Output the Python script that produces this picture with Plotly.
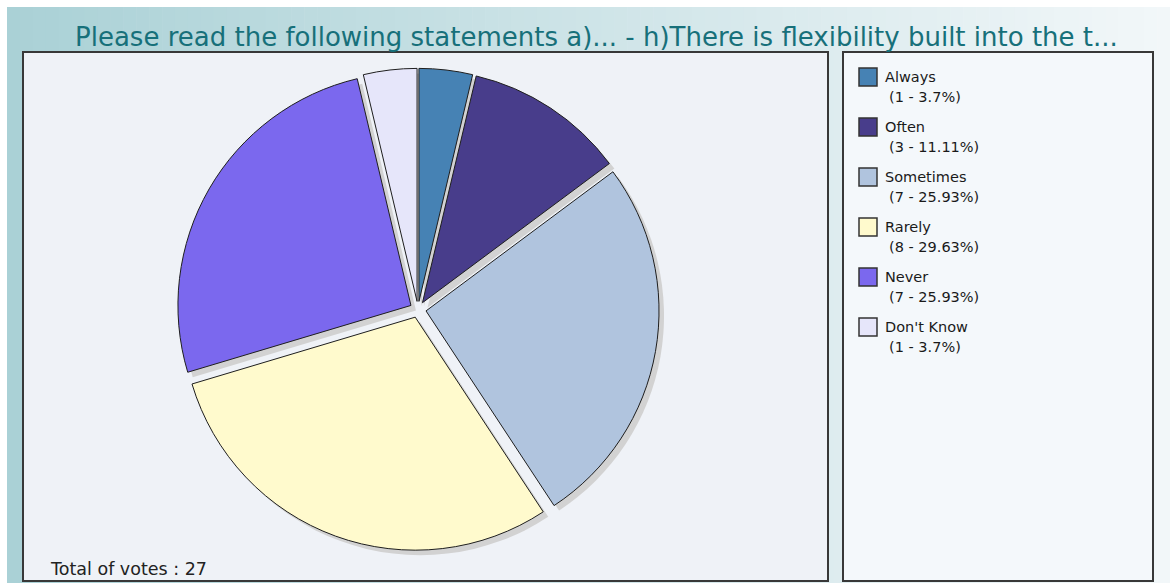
import plotly.graph_objects as go

# Survey answers and vote counts
answers = ["Always", "Often", "Sometimes", "Rarely", "Never", "Don't Know"]
votes = [1, 3, 7, 8, 7, 1]
colors = ["#4682b4", "#483d8b", "#b0c4de", "#fffacd", "#7b68ee", "#e6e6fa"]
title_text = "Please read the following statements a)... - h)There is flexibility built into the t..."

W, H = 1170, 583
total = sum(votes)


def pct(v):
    s = f"{v / total * 100:.2f}".rstrip("0").rstrip(".")
    return s


def px(x):
    return x / W


def py(y):
    return 1 - y / H


# pie geometry (pixels)
cx, cy, r, pull = 418.0, 309.5, 233.0, 0.035
half = r * (1 + pull)
shadow_dx, shadow_dy = 5, 5


def dom(dx=0, dy=0):
    return dict(x=[px(cx + dx - half), px(cx + dx + half)],
                y=[py(cy + dy + half), py(cy + dy - half)])


fig = go.Figure()

# drop shadow beneath the slices
fig.add_trace(go.Pie(
    labels=answers, values=votes, sort=False, direction="clockwise", rotation=0,
    pull=[pull] * len(votes), domain=dom(shadow_dx, shadow_dy),
    marker=dict(colors=["#d2d2d2"] * len(votes), line=dict(width=0)),
    textinfo="none", hoverinfo="skip", showlegend=False,
))

fig.add_trace(go.Pie(
    labels=answers, values=votes, sort=False, direction="clockwise", rotation=0,
    pull=[pull] * len(votes), domain=dom(),
    marker=dict(colors=colors, line=dict(color="#1e1e1e", width=1)),
    textinfo="none", showlegend=False,
    hovertemplate="%{label}: %{value} (%{percent})<extra></extra>",
))

shapes = []
# horizontal gradient background
x_start, n_strips = 7, 90
c0, c1 = (170, 209, 214), (242, 247, 249)
step = (W - x_start) / n_strips
for i in range(n_strips):
    t = i / (n_strips - 1)
    col = tuple(round(a + (b - a) * t) for a, b in zip(c0, c1))
    shapes.append(dict(type="rect", xref="paper", yref="paper", layer="below",
                       x0=px(x_start + i * step), x1=px(x_start + (i + 1) * step + 0.6),
                       y0=py(H), y1=py(7), line=dict(width=0),
                       fillcolor=f"rgb{col}"))

# chart panel and legend panel
shapes.append(dict(type="rect", xref="paper", yref="paper", layer="below",
                   x0=px(23), x1=px(828), y0=py(581), y1=py(52),
                   fillcolor="#eff2f7", line=dict(color="#383838", width=2)))
shapes.append(dict(type="rect", xref="paper", yref="paper", layer="below",
                   x0=px(843), x1=px(1153), y0=py(581), y1=py(52),
                   fillcolor="#f4f8fb", line=dict(color="#383838", width=2)))

annotations = [
    dict(text=title_text, xref="paper", yref="paper", x=px(596), y=py(37),
         xanchor="center", yanchor="middle", showarrow=False,
         font=dict(family="DejaVu Sans", size=26, color="#17707a")),
    dict(text=f"Total of votes : {total}", xref="paper", yref="paper",
         x=px(48), y=py(569), xanchor="left", yanchor="middle", showarrow=False,
         font=dict(family="DejaVu Sans", size=17.5, color="#222222")),
]

# legend entries
for i, (name, v, col) in enumerate(zip(answers, votes, colors)):
    top = 68 + i * 50
    shapes.append(dict(type="rect", xref="paper", yref="paper",
                       x0=px(859), x1=px(877), y0=py(top + 18), y1=py(top),
                       fillcolor=col, line=dict(color="#333333", width=1.5)))
    annotations.append(dict(text=name, xref="paper", yref="paper",
                            x=px(883), y=py(top + 9), xanchor="left", yanchor="middle",
                            showarrow=False,
                            font=dict(family="DejaVu Sans", size=14.5, color="#1a1a1a")))
    annotations.append(dict(text=f"({v} - {pct(v)}%)", xref="paper", yref="paper",
                            x=px(887), y=py(top + 29), xanchor="left", yanchor="middle",
                            showarrow=False,
                            font=dict(family="DejaVu Sans", size=14.5, color="#1a1a1a")))

fig.update_layout(
    width=W, height=H,
    margin=dict(l=0, r=0, t=0, b=0),
    paper_bgcolor="#ffffff",
    shapes=shapes,
    annotations=annotations,
    showlegend=False,
)

fig.write_html("out.html")
